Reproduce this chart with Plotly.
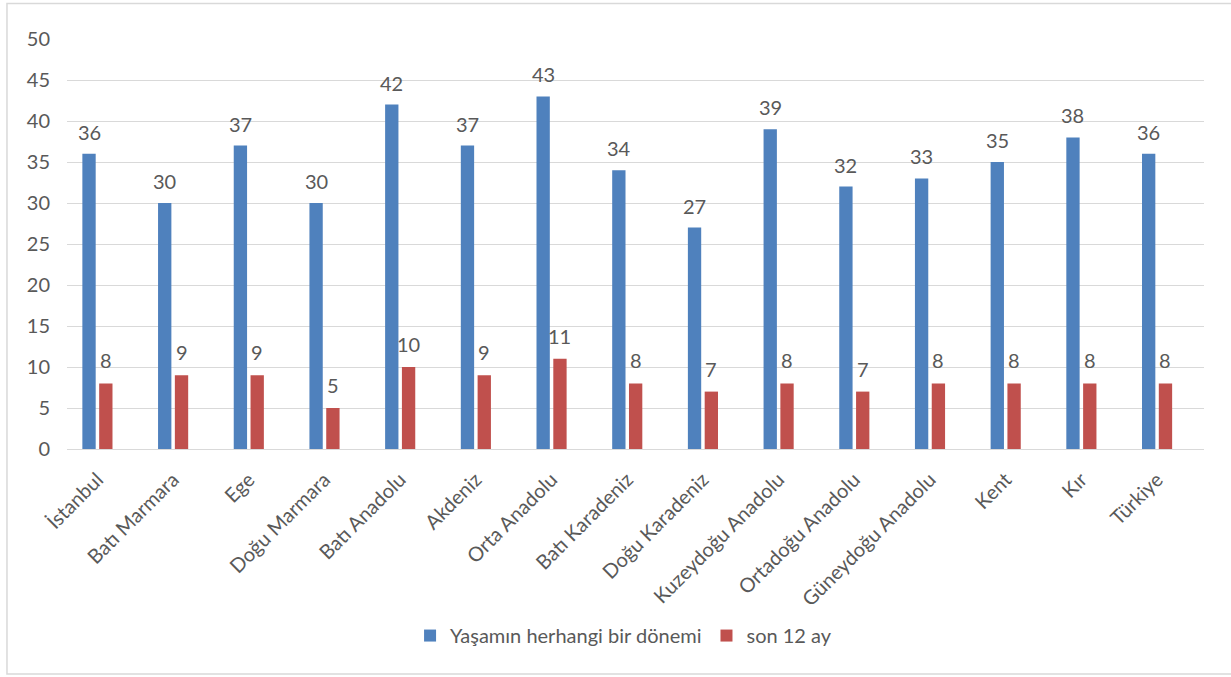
import plotly.graph_objects as go

categories = ["İstanbul", "Batı Marmara", "Ege", "Doğu Marmara", "Batı Anadolu", "Akdeniz",
              "Orta Anadolu", "Batı Karadeniz", "Doğu Karadeniz", "Kuzeydoğu Anadolu",
              "Ortadoğu Anadolu", "Güneydoğu Anadolu", "Kent", "Kır", "Türkiye"]
lifetime = [36, 30, 37, 30, 42, 37, 43, 34, 27, 39, 32, 33, 35, 38, 36]
last12 = [8, 9, 9, 5, 10, 9, 11, 8, 7, 8, 7, 8, 8, 8, 8]
series_names = ["Yaşamın herhangi bir dönemi", "son 12 ay"]
y_ticks = [0, 5, 10, 15, 20, 25, 30, 35, 40, 45, 50]

BLUE = "#4F81BD"
RED = "#C0504D"
TXT = "#595959"
FONT = "Lato"
FS = 20

fig = go.Figure()
fig.add_trace(go.Bar(x=categories, y=lifetime, name=series_names[0],
                     marker=dict(color=BLUE, line=dict(width=0))))
fig.add_trace(go.Bar(x=categories, y=last12, name=series_names[1],
                     marker=dict(color=RED, line=dict(width=0))))

slot = 0.222
annotations = []
for i, (a, b) in enumerate(zip(lifetime, last12)):
    annotations.append(dict(x=i - slot / 2, y=a, text=str(a), showarrow=False,
                            xref="x", yref="y", yshift=22, yanchor="middle",
                            font=dict(family=FONT, size=FS, color=TXT)))
    annotations.append(dict(x=i + slot / 2, y=b, text=str(b), showarrow=False,
                            xref="x", yref="y", yshift=23, yanchor="middle",
                            font=dict(family=FONT, size=FS, color=TXT)))

fig.update_layout(
    width=1231, height=677,
    margin=dict(l=67, r=27, t=38.5, b=227.5, autoexpand=False),
    paper_bgcolor="white", plot_bgcolor="white",
    barmode="group", bargap=0.556, bargroupgap=0.207,
    font=dict(family=FONT, size=FS, color=TXT),
    annotations=annotations,
    showlegend=True,
    legend=dict(orientation="h", x=0.4895, xanchor="center", y=-0.455, yanchor="middle",
                font=dict(family=FONT, size=FS, color=TXT), itemwidth=30,
                traceorder="normal", itemclick=False),
    xaxis=dict(type="category", range=[-0.402, 14.62], tickangle=-45, automargin=False,
               showgrid=False, showline=True, linecolor="#D9D9D9", linewidth=1.3,
               ticks="", ticklabelstandoff=10,
               tickfont=dict(family=FONT, size=FS, color=TXT)),
    yaxis=dict(range=[0, 50], tickvals=y_ticks, showgrid=True, gridcolor="#D9D9D9",
               gridwidth=1.3, zeroline=False, showline=False, ticks="", automargin=False,
               ticklabelstandoff=16,
               tickfont=dict(family=FONT, size=FS, color=TXT)),
    shapes=[dict(type="rect", xref="paper", yref="paper",
                 x0=-0.0528, x1=1.03, y0=-0.5487, y1=1.0864,
                 line=dict(color="#D9D9D9", width=1.5), fillcolor="rgba(0,0,0,0)",
                 layer="below")],
)

fig.write_html("out.html", config={"displayModeBar": False},
               post_script="document.body.style.margin='0';")
